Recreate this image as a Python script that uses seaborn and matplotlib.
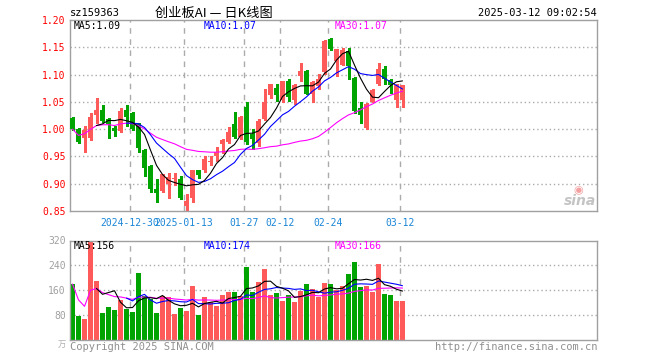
import numpy as np
import pandas as pd
import matplotlib
matplotlib.use('Agg')
import matplotlib.pyplot as plt
import seaborn as sns

sns.set_style('white')
plt.rcParams['font.family'] = ['DejaVu Sans Mono']
plt.rcParams['patch.force_edgecolor'] = False

# daily bars for 159363
dates = ['2024-12-16', '2024-12-17', '2024-12-18', '2024-12-19', '2024-12-20', '2024-12-23',
         '2024-12-24', '2024-12-25', '2024-12-26', '2024-12-27', '2024-12-30', '2024-12-31',
         '2025-01-02', '2025-01-03', '2025-01-06', '2025-01-07', '2025-01-08', '2025-01-09',
         '2025-01-10', '2025-01-13', '2025-01-14', '2025-01-15', '2025-01-16', '2025-01-17',
         '2025-01-20', '2025-01-21', '2025-01-22', '2025-01-23', '2025-01-24', '2025-01-27',
         '2025-02-05', '2025-02-06', '2025-02-07', '2025-02-10', '2025-02-11', '2025-02-12',
         '2025-02-13', '2025-02-14', '2025-02-17', '2025-02-18', '2025-02-19', '2025-02-20',
         '2025-02-21', '2025-02-24', '2025-02-25', '2025-02-26', '2025-02-27', '2025-02-28',
         '2025-03-03', '2025-03-04', '2025-03-05', '2025-03-06', '2025-03-07', '2025-03-10',
         '2025-03-11', '2025-03-12']
opens = [1.021, 1.000, 0.983, 0.983, 1.025, 1.035, 1.018, 1.002, 0.997, 1.035,
         1.029, 1.011, 0.962, 0.933, 0.891, 0.886, 0.899, 0.908, 0.908, 0.859,
         0.874, 0.926, 0.925, 0.939, 0.951, 0.972, 0.977, 1.009, 0.985, 1.040,
         0.992, 0.975, 1.018, 1.063, 1.075, 1.054, 1.089, 1.054, 1.098, 1.106,
         1.064, 1.079, 1.104, 1.166, 1.124, 1.118, 1.143, 1.093, 1.039, 1.002,
         1.050, 1.083, 1.110, 1.090, 1.054, 1.054]
highs = [1.023, 1.003, 1.006, 1.029, 1.057, 1.044, 1.020, 1.006, 1.039, 1.044,
         1.031, 1.012, 0.963, 0.934, 0.908, 0.918, 0.920, 0.920, 0.914, 0.882,
         0.926, 0.926, 0.951, 0.951, 0.968, 0.982, 1.004, 1.031, 1.025, 1.050,
         1.000, 1.018, 1.074, 1.083, 1.083, 1.089, 1.092, 1.083, 1.121, 1.108,
         1.089, 1.101, 1.163, 1.167, 1.147, 1.148, 1.149, 1.096, 1.050, 1.048,
         1.074, 1.121, 1.115, 1.092, 1.083, 1.081]
lows = [0.999, 0.975, 0.958, 0.980, 1.011, 1.014, 0.983, 0.988, 0.994, 1.006,
        0.999, 0.958, 0.914, 0.885, 0.867, 0.885, 0.873, 0.898, 0.872, 0.850,
        0.867, 0.910, 0.922, 0.934, 0.942, 0.957, 0.975, 0.983, 0.982, 0.972,
        0.964, 0.970, 1.016, 1.057, 1.052, 1.050, 1.052, 1.046, 1.088, 1.064,
        1.049, 1.074, 1.101, 1.145, 1.098, 1.117, 1.091, 1.029, 1.011, 1.001,
        1.050, 1.081, 1.083, 1.067, 1.041, 1.041]
closes = [1.000, 0.977, 0.998, 1.023, 1.035, 1.015, 1.009, 0.996, 1.034, 1.023,
          1.000, 0.966, 0.929, 0.890, 0.883, 0.917, 0.912, 0.909, 0.874, 0.869,
          0.926, 0.916, 0.945, 0.940, 0.958, 0.980, 0.995, 0.986, 1.023, 0.977,
          0.982, 1.015, 1.050, 1.083, 1.063, 1.088, 1.058, 1.081, 1.106, 1.065,
          1.087, 1.092, 1.161, 1.146, 1.147, 1.145, 1.115, 1.034, 1.026, 1.046,
          1.072, 1.110, 1.091, 1.080, 1.081, 1.080]
volumes = [180, 78, 67, 314, 190, 86, 106, 96, 129, 101, 90, 215, 141, 133, 86, 141,
           138, 83, 103, 93, 173, 80, 138, 122, 109, 144, 154, 154, 141, 234, 154, 187,
           227, 144, 150, 125, 144, 122, 157, 179, 164, 138, 182, 179, 160, 173, 211, 250,
           170, 173, 154, 246, 147, 144, 125, 125]
label_dates = ['2024-12-30', '2025-01-13', '2025-01-27', '2025-02-12', '2025-02-24', '2025-03-12']
label_texts = ['2024-12-30', '2025-01-13', '01-27', '02-12', '02-24', '03-12']
price_ma_labels = ['MA5:1.09', 'MA10:1.07', 'MA30:1.07']
vol_ma_labels = ['MA5:156', 'MA10:174', 'MA30:166']

df = pd.DataFrame({'date': dates, 'open': opens, 'high': highs, 'low': lows,
                   'close': closes, 'vol': volumes})
df['x'] = np.arange(len(df))
df['xc'] = df['x'] + 2.5 / 6
df['ma5'] = df['close'].rolling(5).mean()
df['ma10'] = df['close'].rolling(10).mean()
df['ma30'] = df['close'].rolling(30, min_periods=1).mean()
df['vma5'] = df['vol'].rolling(5).mean()
df['vma10'] = df['vol'].rolling(10).mean()
df['vma30'] = df['vol'].rolling(30, min_periods=1).mean()

RED = '#ff5a5a'
GREEN = '#00a400'
GRID = '#ababab'
colors = [RED if c >= o else GREEN for o, c in zip(df['open'], df['close'])]

W, H = 660, 360
fig = plt.figure(figsize=(6.6, 3.6), dpi=100)
ax = fig.add_axes([70 / W, 1 - 211 / H, 527 / W, 191 / H])
axv = fig.add_axes([70 / W, 1 - 340 / H, 527 / W, 99.5 / H])

tick_idx = [dates.index(d) for d in label_dates]

# candles
body = (df['close'] - df['open']).abs().clip(lower=0.0019)
ax.vlines(df['xc'], df['low'], df['high'], colors=colors, lw=0.8, zorder=2, antialiased=False)
ax.bar(df['x'], body, bottom=np.minimum(df['open'], df['close']), width=5 / 6,
       align='edge', color=colors, edgecolor='none', linewidth=0, zorder=3, antialiased=False)
sns.lineplot(x=df['xc'], y=df['ma30'], ax=ax, color='#ff00ff', lw=0.8, zorder=4)
sns.lineplot(x=df['xc'], y=df['ma10'], ax=ax, color='#0000ff', lw=0.8, zorder=5)
sns.lineplot(x=df['xc'], y=df['ma5'], ax=ax, color='black', lw=0.8, zorder=6)

ax.set_ylim(0.85, 1.20)
yt = [0.85, 0.90, 0.95, 1.00, 1.05, 1.10, 1.15, 1.20]
for v in yt[1:-1]:
    ax.axhline(v, color=GRID, lw=1, ls=(0, (1, 2)), zorder=0)
ax.set_yticks(yt)
ax.set_yticklabels([f'{v:.2f}' for v in yt], color='#ff0000', fontsize=7)
ax.set_xticks(tick_idx)
ax.set_xticklabels(label_texts, color='#1a86d6', fontsize=7)
ax.tick_params(axis='y', pad=3)
ax.tick_params(axis='x', pad=5)
ax.set_xlabel('')
ax.set_ylabel('')

# volume
axv.bar(df['x'], df['vol'], width=5 / 6, align='edge', color=colors, edgecolor='none',
        linewidth=0, zorder=2, antialiased=False)
sns.lineplot(x=df['xc'], y=df['vma30'], ax=axv, color='#ff00ff', lw=0.8, zorder=4)
sns.lineplot(x=df['xc'], y=df['vma10'], ax=axv, color='#0000ff', lw=0.8, zorder=5)
sns.lineplot(x=df['xc'], y=df['vma5'], ax=axv, color='black', lw=0.8, zorder=6)
axv.set_ylim(0, 320)
vt = [80, 160, 240, 320]
for v in vt[:-1]:
    axv.axhline(v, color=GRID, lw=1, ls=(0, (1, 2)), zorder=0)
axv.set_yticks(vt)
axv.set_yticklabels([str(v) for v in vt], color='#a0a0a0', fontsize=7)
axv.tick_params(axis='y', pad=3)
axv.set_xticks([])
axv.set_xlabel('')
axv.set_ylabel('')

for a in (ax, axv):
    a.set_xlim(0, 527 / 6)
    for s in a.spines.values():
        s.set_color('#a0a0a0')
        s.set_linewidth(1)
    for t in tick_idx:
        a.axvline(t, color=GRID, lw=1, ls=(0, (4, 4)), zorder=0)
    a.tick_params(length=0)

def px(x, y):
    return x / W, 1 - y / H

ma_colors = ['black', '#0000ff', '#ff00ff']
for lx, pl, vl, c in zip([74, 204, 335], price_ma_labels, vol_ma_labels, ma_colors):
    fig.text(*px(lx, 26), pl, fontsize=7, color=c, va='center')
    fig.text(*px(lx, 246), vl, fontsize=7, color=c, va='center')

fig.text(*px(70, 13), 'sz159363', fontsize=7.5, color='black', va='center')
fig.text(*px(214, 13), '创业板AI — 日K线图', fontsize=9.5, color='black', va='center', ha='center',
         family=['Noto Sans CJK SC', 'DejaVu Sans'])
fig.text(*px(597, 13), '2025-03-12 09:02:54', fontsize=7.5, color='black', va='center', ha='right')
fig.text(*px(70, 347), 'Copyright 2025 SINA.COM', fontsize=7.5, color='#909090', va='center')
fig.text(*px(597, 347), 'http://finance.sina.com.cn', fontsize=7.5, color='#909090', va='center', ha='right')
fig.text(*px(62, 344), '万', fontsize=6, color='#b0b0b0', va='center', ha='center',
         family=['Noto Sans CJK SC', 'DejaVu Sans'])
fig.text(*px(578, 190), '◉', fontsize=8, color='#f3a0a0', va='center', ha='center', family=['DejaVu Sans'])
fig.text(*px(596, 201), 'sina', fontsize=10, color='#c4c4c4', va='center', ha='right',
         style='italic', weight='bold', family=['DejaVu Sans'])

fig.savefig('out.png', dpi=100)
